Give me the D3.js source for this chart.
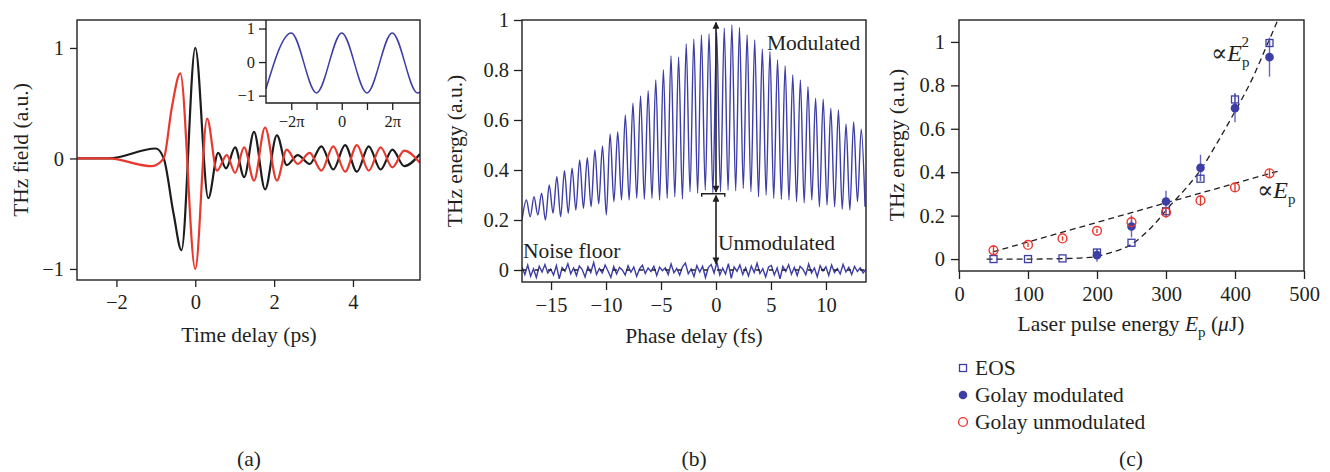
<!DOCTYPE html>
<html>
<head>
<meta charset="utf-8">
<script src="https://cdn.jsdelivr.net/npm/d3@7"></script>
<style>
  body { margin: 0; background: #fff; }
  svg text { font-family: "Liberation Serif", "DejaVu Serif", serif; fill: #231f20; }
</style>
</head>
<body>
<svg id="fig" width="1330" height="472"></svg>
<script>
// ---- (a) THz waveforms, extrema (time in ps, field in a.u.) ----
var blackTime = [-3, -2.2, -1.0, -0.8, -0.55, -0.35, 0, 0.33, 0.58, 0.78, 1.01, 1.24, 1.49, 1.77, 2.07, 2.32, 2.6, 2.9, 3.2, 3.5, 3.8, 4.1, 4.4, 4.7, 5.0, 5.3, 5.7];
var blackField = [0, 0, 0.09, 0.0, -0.5, -0.83, 1.0, -0.36, 0.05, -0.09, 0.1, -0.17, 0.24, -0.28, 0.21, -0.06, 0.03, -0.05, 0.11, -0.1, 0.12, -0.12, 0.11, -0.1, 0.08, -0.07, 0.04];
var redTime = [-3, -2.2, -1.1, -0.8, -0.6, -0.38, 0, 0.3, 0.55, 0.8, 1.01, 1.24, 1.49, 1.77, 2.07, 2.32, 2.6, 2.9, 3.2, 3.5, 3.8, 4.1, 4.4, 4.7, 5.0, 5.3, 5.7];
var redField = [0, 0, -0.07, 0.0, 0.45, 0.77, -1.0, 0.36, -0.11, 0.03, -0.13, 0.1, -0.2, 0.28, -0.2, 0.08, -0.05, 0.05, -0.11, 0.11, -0.12, 0.12, -0.11, 0.1, -0.08, 0.07, -0.04];
var aTicksX = [-2, 0, 2, 4];
var aTicksY = [-1, 0, 1];

// inset: phase in units of pi
var insetPhase = [-3, -2, -1, 0, 1, 2, 3, 3.1];
var insetValue = [-0.8, 0.87, -0.92, 0.87, -0.92, 0.87, -0.92, -0.9];
var insetTicksX = [-2, -1, 0, 1, 2];
var insetLabels = { "-2": "\u22122\u03c0", "0": "0", "2": "2\u03c0" };
var insetTicksY = [-1, 0, 1];

// ---- (b) energy vs phase delay (fs) ----
var firstPeakPhase = -17.24;
var fringePeriod = 0.692;
var modStart = 0.2;
var modPeaks = [0.28, 0.293, 0.307, 0.34, 0.373, 0.397, 0.407, 0.44, 0.449, 0.48, 0.496, 0.544, 0.553, 0.62, 0.667,
  0.696, 0.717, 0.76, 0.8, 0.856, 0.851, 0.904, 0.923, 0.94, 0.944, 0.95, 0.967, 0.98, 0.97, 0.94,
  0.92, 0.883, 0.873, 0.84, 0.816, 0.78, 0.76, 0.733, 0.687, 0.683, 0.647, 0.64, 0.584, 0.593, 0.563];
var modTroughs = [0.213, 0.22, 0.2, 0.227, 0.213, 0.227, 0.24, 0.247, 0.253, 0.264, 0.22, 0.273, 0.28, 0.28, 0.287,
  0.283, 0.287, 0.28, 0.287, 0.293, 0.284, 0.313, 0.307, 0.32, 0.309, 0.313, 0.32, 0.317, 0.327, 0.313,
  0.293, 0.3, 0.287, 0.283, 0.28, 0.273, 0.269, 0.28, 0.253, 0.26, 0.253, 0.243, 0.24, 0.273, 0.253];
var noiseFloor = [0.012, -0.018, 0.02, -0.025, 0.005, -0.03, 0.015, -0.008, 0.022, -0.012, 0.004, -0.02, 0.018, -0.035, 0.01,
  -0.005, 0.025, -0.015, 0.008, -0.022, 0.016, 0.002, -0.028, 0.013, -0.01, 0.03, -0.018, 0.006, -0.012, 0.02,
  -0.004, -0.03, 0.014, -0.016, 0.01, 0.0, -0.02, 0.017, -0.009, 0.012, -0.025, 0.005, 0.019, -0.014, 0.008,
  -0.006, 0.015, -0.022, 0.011, -0.003, 0.009, -0.018, 0.024, -0.011, 0.006, -0.02, 0.013, 0.028, -0.015, 0.004,
  -0.026, 0.018, -0.008, 0.015, -0.03, 0.01, 0.022, -0.012, 0.031, -0.02, 0.007, -0.016, 0.025, -0.033, 0.012,
  -0.005, 0.02, -0.018, 0.009, -0.024, 0.016, -0.01, 0.027, -0.014, 0.005, -0.028, 0.012, 0.018, -0.02, 0.008,
  -0.035, 0.014, -0.006, 0.021, -0.017, 0.01, -0.022, 0.015, 0.003, -0.019, 0.024, -0.012, 0.008, -0.027, 0.017,
  -0.004, 0.013, -0.021, 0.02, -0.01, 0.006, -0.016, 0.022, -0.008, 0.011, -0.018, 0.014, -0.006, 0.009, -0.012, 0.004];
var bTicksX = [-15, -10, -5, 0, 5, 10];
var bTicksY = [0, 0.2, 0.4, 0.6, 0.8, 1];

// ---- (c) energy vs laser pulse energy (uJ) ----
var pulseEnergy = [50, 100, 150, 200, 250, 300, 350, 400, 450];
var eos = [0, 0, 0.003, 0.03, 0.075, 0.22, 0.37, 0.735, 0.995];
var eosErr = [0, 0, 0, 0.015, 0, 0, 0.01, 0.03, 0.02];
var golayModEnergy = [200, 250, 300, 350, 400, 450];
var golayMod = [0.018, 0.15, 0.265, 0.42, 0.695, 0.93];
var golayModErr = [0.03, 0.05, 0.05, 0.06, 0.065, 0.09];
var golayUnmod = [0.04, 0.065, 0.095, 0.13, 0.17, 0.215, 0.27, 0.33, 0.395];
var golayUnmodErr = [0.025, 0.01, 0.01, 0.01, 0.03, 0.025, 0.025, 0.02, 0.02];
var fitLinEnergy = [49, 466];
var fitLin = [0.033, 0.408];
var fitQuadEnergy = [40, 100, 150, 190, 220, 250, 280, 307, 330, 350, 375, 400, 425, 447, 462];
var fitQuad = [0, 0, 0.002, 0.008, 0.03, 0.068, 0.15, 0.25, 0.33, 0.41, 0.54, 0.68, 0.83, 0.99, 1.1];
var cTicksX = [0, 100, 200, 300, 400, 500];
var cTicksY = [0, 0.2, 0.4, 0.6, 0.8, 1];

var legendNames = ["EOS", "Golay modulated", "Golay unmodulated"];

// ---- styling ----
var ink = "#231f20";
var blue = "#3d3da6";
var blueLight = "#6666c0";
var red = "#e8392e";
var serif = '"Liberation Serif", "DejaVu Serif", serif';
var labelSize = 21.5;
var tickSize = 20.5;

var svg = d3.select("#fig");
var defs = svg.append("defs");

defs.append("marker")
  .attr("id", "arrow")
  .attr("viewBox", "0 0 10 10")
  .attr("refX", 9)
  .attr("refY", 5)
  .attr("markerUnits", "userSpaceOnUse")
  .attr("markerWidth", 8)
  .attr("markerHeight", 7)
  .attr("orient", "auto-start-reverse")
  .append("path")
  .attr("d", "M0,0 L10,5 L0,10 z")
  .attr("fill", ink);

function clip(id, x0, y0, x1, y1) {
  defs.append("clipPath").attr("id", id)
    .append("rect").attr("x", x0).attr("y", y0).attr("width", x1 - x0).attr("height", y1 - y0);
  return "url(#" + id + ")";
}

function styleAxis(sel, size) {
  sel.select(".domain").remove();
  sel.selectAll(".tick line").attr("stroke", ink).attr("stroke-width", 1.3);
  sel.selectAll(".tick text")
    .attr("fill", ink)
    .style("font-family", serif)
    .style("font-size", (size || tickSize) + "px");
}

function frame(x0, y0, x1, y1) {
  svg.append("rect")
    .attr("x", x0).attr("y", y0)
    .attr("width", x1 - x0).attr("height", y1 - y0)
    .attr("fill", "none")
    .attr("stroke", ink)
    .attr("stroke-width", 1.4);
}

function label(x, y, txt, rotate, anchor) {
  return svg.append("text")
    .attr("transform", "translate(" + x + "," + y + ")" + (rotate ? " rotate(-90)" : ""))
    .attr("text-anchor", anchor || "middle")
    .style("font-size", labelSize + "px")
    .text(txt);
}

var fmt = d3.format("~g");

// =========================== panel (a) ===========================
var aX = d3.scaleLinear().domain([-3, 5.7]).range([77, 420]);
var aY = d3.scaleLinear().domain([-1.1, 1.253]).range([280, 20]);
var clipA = clip("clipA", 77, 20, 420, 280);

var waveLine = d3.line()
  .x(function (d) { return aX(d[0]); })
  .y(function (d) { return aY(d[1]); })
  .curve(d3.curveMonotoneX);

svg.append("path")
  .datum(d3.zip(blackTime, blackField))
  .attr("d", waveLine)
  .attr("clip-path", clipA)
  .attr("fill", "none")
  .attr("stroke", "#1c1c1c")
  .attr("stroke-width", 2.2);

svg.append("path")
  .datum(d3.zip(redTime, redField))
  .attr("d", waveLine)
  .attr("clip-path", clipA)
  .attr("fill", "none")
  .attr("stroke", red)
  .attr("stroke-width", 2.2);

svg.append("g")
  .attr("transform", "translate(77,0)")
  .call(d3.axisLeft(aY).tickValues(aTicksY).tickSize(7).tickPadding(6).tickFormat(fmt))
  .call(styleAxis);

svg.append("g")
  .attr("transform", "translate(0,280)")
  .call(d3.axisBottom(aX).tickValues(aTicksX).tickSize(7).tickPadding(7).tickFormat(fmt))
  .call(styleAxis);

// inset
var iX = d3.scaleLinear().domain([-3, 3.1]).range([266, 420]);
var iY = d3.scaleLinear().domain([-1.22, 1.254]).range([103, 20]);

svg.append("rect")
  .attr("x", 266).attr("y", 20)
  .attr("width", 154).attr("height", 83)
  .attr("fill", "#fff");

svg.append("path")
  .datum(d3.zip(insetPhase, insetValue))
  .attr("d", d3.line()
    .x(function (d) { return iX(d[0]); })
    .y(function (d) { return iY(d[1]); })
    .curve(d3.curveMonotoneX))
  .attr("fill", "none")
  .attr("stroke", blue)
  .attr("stroke-width", 1.5);

svg.append("path")
  .attr("d", "M266,20 V103 H420")
  .attr("fill", "none")
  .attr("stroke", ink)
  .attr("stroke-width", 1.4);

svg.append("g")
  .attr("transform", "translate(266,0)")
  .call(d3.axisLeft(iY).tickValues(insetTicksY).tickSize(7).tickPadding(4).tickFormat(fmt))
  .call(styleAxis, 16.5);

svg.append("g")
  .attr("transform", "translate(0,103)")
  .call(d3.axisBottom(iX).tickValues(insetTicksX).tickSize(7).tickPadding(5)
    .tickFormat(function (d) { return insetLabels[d] || ""; }))
  .call(styleAxis, 16.5);

frame(77, 20, 420, 280);
label(28, 150, "THz field (a.u.)", true);
label(249, 342, "Time delay (ps)");
label(249, 466, "(a)");

// =========================== panel (b) ===========================
var bX = d3.scaleLinear().domain([-17.64, 13.64]).range([522, 866]);
var bY = d3.scaleLinear().domain([-0.048, 1]).range([282, 20]);
var clipB = clip("clipB", 522, 20, 866, 282);

var modPoints = [[bX.domain()[0], modStart]];
modPeaks.forEach(function (p, i) {
  modPoints.push([firstPeakPhase + i * fringePeriod, p]);
  modPoints.push([firstPeakPhase + (i + 0.5) * fringePeriod, modTroughs[i]]);
});

var noiseStep = (bX.domain()[1] - bX.domain()[0]) / (noiseFloor.length - 1);
var noisePoints = noiseFloor.map(function (v, i) {
  return [bX.domain()[0] + i * noiseStep, v];
});

var bLine = d3.line()
  .x(function (d) { return bX(d[0]); })
  .y(function (d) { return bY(d[1]); });

svg.append("path")
  .datum(modPoints)
  .attr("d", bLine.curve(d3.curveMonotoneX))
  .attr("clip-path", clipB)
  .attr("fill", "none")
  .attr("stroke", blue)
  .attr("stroke-width", 1.4);

svg.append("path")
  .datum(noisePoints)
  .attr("d", bLine.curve(d3.curveLinear))
  .attr("clip-path", clipB)
  .attr("fill", "none")
  .attr("stroke", blue)
  .attr("stroke-width", 1.4);

// black dashed zero line of the noise floor
svg.append("line")
  .attr("x1", bX.range()[0]).attr("x2", bX.range()[1])
  .attr("y1", bY(0)).attr("y2", bY(0))
  .attr("stroke", ink)
  .attr("stroke-width", 1.4)
  .attr("stroke-dasharray", "4,9");

// arrows at zero phase
svg.append("line")
  .attr("x1", bX(0)).attr("x2", bX(0))
  .attr("y1", bY(0.312)).attr("y2", bY(0.99))
  .attr("stroke", ink)
  .attr("stroke-width", 1.6)
  .attr("marker-start", "url(#arrow)")
  .attr("marker-end", "url(#arrow)");

svg.append("line")
  .attr("x1", bX(0)).attr("x2", bX(0))
  .attr("y1", bY(0.025)).attr("y2", bY(0.298))
  .attr("stroke", ink)
  .attr("stroke-width", 1.6)
  .attr("marker-start", "url(#arrow)")
  .attr("marker-end", "url(#arrow)");

svg.append("path")
  .attr("d", "M" + bX(-1.3) + "," + (bY(0.305) + 3) + " V" + bY(0.305) + " H" + bX(0.8) + " V" + (bY(0.305) + 3))
  .attr("fill", "none")
  .attr("stroke", ink)
  .attr("stroke-width", 1.4);

svg.append("g")
  .attr("transform", "translate(522,0)")
  .call(d3.axisLeft(bY).tickValues(bTicksY).tickSize(8).tickPadding(5).tickFormat(fmt))
  .call(styleAxis);

svg.append("g")
  .attr("transform", "translate(0,282)")
  .call(d3.axisBottom(bX).tickValues(bTicksX).tickSize(8).tickPadding(7).tickFormat(fmt))
  .call(styleAxis);

frame(522, 20, 866, 282);
label(767, 50, "Modulated", false, "start");
label(718, 250, "Unmodulated", false, "start");
label(523, 258, "Noise floor", false, "start");
label(462, 151, "THz energy (a.u.)", true);
label(694, 343, "Phase delay (fs)");
label(694, 466, "(b)");

// =========================== panel (c) ===========================
var cX = d3.scaleLinear().domain([0, 500]).range([959, 1304]);
var cY = d3.scaleLinear().domain([-0.055, 1.101]).range([271, 20]);
var clipC = clip("clipC", 959, 20, 1304, 271);

var fitLine = d3.line()
  .x(function (d) { return cX(d[0]); })
  .y(function (d) { return cY(d[1]); });

svg.append("path")
  .datum(d3.zip(fitLinEnergy, fitLin))
  .attr("d", fitLine.curve(d3.curveLinear))
  .attr("clip-path", clipC)
  .attr("fill", "none")
  .attr("stroke", ink)
  .attr("stroke-width", 1.3)
  .attr("stroke-dasharray", "6,4");

svg.append("path")
  .datum(d3.zip(fitQuadEnergy, fitQuad))
  .attr("d", fitLine.curve(d3.curveMonotoneX))
  .attr("clip-path", clipC)
  .attr("fill", "none")
  .attr("stroke", ink)
  .attr("stroke-width", 1.3)
  .attr("stroke-dasharray", "6,4");

// error bars
function errBars(xs, ys, errs, color) {
  svg.append("g")
    .selectAll("line")
    .data(d3.zip(xs, ys, errs).filter(function (d) { return d[2] > 0; }))
    .enter()
    .append("line")
    .attr("x1", function (d) { return cX(d[0]); })
    .attr("x2", function (d) { return cX(d[0]); })
    .attr("y1", function (d) { return cY(d[1] - d[2]); })
    .attr("y2", function (d) { return cY(d[1] + d[2]); })
    .attr("stroke", color)
    .attr("stroke-width", 1.4);
}
errBars(pulseEnergy, golayUnmod, golayUnmodErr, red);
errBars(golayModEnergy, golayMod, golayModErr, blueLight);
errBars(pulseEnergy, eos, eosErr, blueLight);

svg.append("g")
  .selectAll("rect")
  .data(d3.zip(pulseEnergy, eos))
  .enter()
  .append("rect")
  .attr("x", function (d) { return cX(d[0]) - 3.5; })
  .attr("y", function (d) { return cY(d[1]) - 3.5; })
  .attr("width", 7)
  .attr("height", 7)
  .attr("fill", "none")
  .attr("stroke", blue)
  .attr("stroke-width", 1.3);

svg.append("g")
  .selectAll("circle")
  .data(d3.zip(golayModEnergy, golayMod))
  .enter()
  .append("circle")
  .attr("cx", function (d) { return cX(d[0]); })
  .attr("cy", function (d) { return cY(d[1]); })
  .attr("r", 4.3)
  .attr("fill", blue);

svg.append("g")
  .selectAll("circle")
  .data(d3.zip(pulseEnergy, golayUnmod))
  .enter()
  .append("circle")
  .attr("cx", function (d) { return cX(d[0]); })
  .attr("cy", function (d) { return cY(d[1]); })
  .attr("r", 4.4)
  .attr("fill", "none")
  .attr("stroke", red)
  .attr("stroke-width", 1.4);

svg.append("g")
  .attr("transform", "translate(959,0)")
  .call(d3.axisLeft(cY).tickValues(cTicksY).tickSize(8).tickPadding(6).tickFormat(fmt))
  .call(styleAxis);

svg.append("g")
  .attr("transform", "translate(0,271)")
  .call(d3.axisBottom(cX).tickValues(cTicksX).tickSize(8).tickPadding(7).tickFormat(fmt))
  .call(styleAxis);

frame(959, 20, 1304, 271);

// fit annotations
var sq = svg.append("text").attr("x", 1211).attr("y", 61).style("font-size", "24px");
sq.append("tspan").text("\u221d");
sq.append("tspan").style("font-style", "italic").text("E");
sq.append("tspan").attr("dy", 6).style("font-size", "15px").text("p");
sq.append("tspan").attr("dx", -8).attr("dy", -20).style("font-size", "15px").text("2");

var lin = svg.append("text").attr("x", 1257).attr("y", 198).style("font-size", "24px");
lin.append("tspan").text("\u221d");
lin.append("tspan").style("font-style", "italic").text("E");
lin.append("tspan").attr("dy", 6).style("font-size", "15px").text("p");

var xl = svg.append("text")
  .attr("x", 1131).attr("y", 331)
  .attr("text-anchor", "middle")
  .style("font-size", labelSize + "px");
xl.append("tspan").text("Laser pulse energy ");
xl.append("tspan").style("font-style", "italic").text("E");
xl.append("tspan").attr("dy", 6).style("font-size", "15px").text("p");
xl.append("tspan").attr("dy", -6).text(" (");
xl.append("tspan").style("font-style", "italic").text("\u03bc");
xl.append("tspan").text("J)");

label(904, 145, "THz energy (a.u.)", true);
label(1131, 466, "(c)");

// legend
var legend = svg.append("g")
  .selectAll("g")
  .data(legendNames)
  .enter()
  .append("g")
  .attr("transform", function (d, i) {
    return "translate(963," + (368 + i * 27) + ")";
  });

legend.each(function (d, i) {
  var g = d3.select(this);
  if (i === 0) {
    g.append("rect").attr("x", -3.5).attr("y", -3.5).attr("width", 7).attr("height", 7)
      .attr("fill", "none").attr("stroke", blue).attr("stroke-width", 1.3);
  } else if (i === 1) {
    g.append("circle").attr("r", 4.3).attr("fill", blue);
  } else {
    g.append("circle").attr("r", 4.4).attr("fill", "none").attr("stroke", red).attr("stroke-width", 1.4);
  }
  g.append("text")
    .attr("x", 12)
    .attr("y", 7)
    .style("font-size", labelSize + "px")
    .text(d);
});
</script>
</body>
</html>
